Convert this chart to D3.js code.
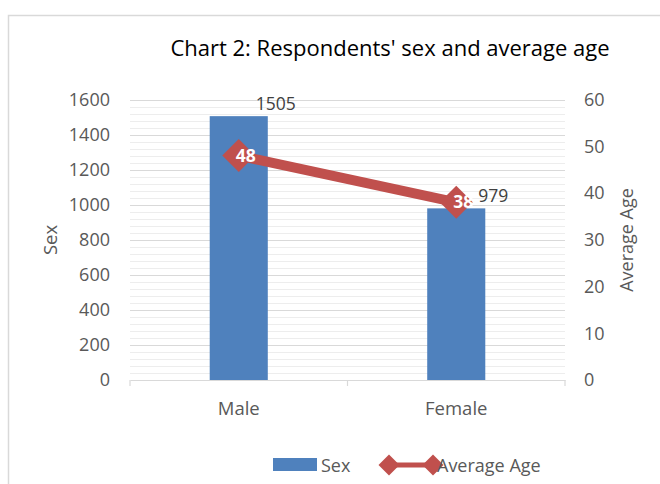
<!DOCTYPE html>
<html><head><meta charset="utf-8">
<script src="https://cdn.jsdelivr.net/npm/d3@7"></script>
<style>
html,body{margin:0;padding:0;background:#fff;}
svg{display:block;font-family:"Open Sans",sans-serif;}
</style></head>
<body>
<svg id="c" width="660" height="484"></svg>
<script>
const categories = ["Male","Female"];
const sexCounts = [1505, 979];
const averageAge = [48, 38];
const leftTicks = [0,200,400,600,800,1000,1200,1400,1600];
const rightTicks = [0,10,20,30,40,50,60];
const minorStep = 40;

const svg = d3.select("#c");
const W = 660, H = 484;
const L = 130, R = 565, T = 99.5, B = 380;
const textCol = "#595959", blue = "#4f81bd", red = "#c0504d";

// chart border
svg.append("rect").attr("x",8.5).attr("y",15.5).attr("width",W).attr("height",H)
  .attr("fill","none").attr("stroke","#d9d9d9").attr("stroke-width",1.5);

const x = d3.scaleBand().domain(categories).range([L,R]).padding(0);
const yL = d3.scaleLinear().domain([0,1600]).range([B,T]);
const yR = d3.scaleLinear().domain([0,60]).range([B,T]);

// minor gridlines
const minor = d3.range(0, 1600 + 1, minorStep).filter(v => !leftTicks.includes(v));
svg.append("g").selectAll("line").data(minor).join("line")
  .attr("x1",L).attr("x2",R).attr("y1",d=>Math.round(yL(d))+0.5).attr("y2",d=>Math.round(yL(d))+0.5)
  .attr("stroke","#ededed").attr("stroke-width",1);
// major gridlines
svg.append("g").selectAll("line").data(leftTicks.filter(v=>v>0)).join("line")
  .attr("x1",L).attr("x2",R).attr("y1",d=>Math.round(yL(d))+0.5).attr("y2",d=>Math.round(yL(d))+0.5)
  .attr("stroke","#d9d9d9").attr("stroke-width",1);

// x axis
const xAxis = svg.append("g").attr("transform",`translate(0,${B})`)
  .call(d3.axisBottom(x).tickSize(0).tickPadding(22));
xAxis.select(".domain").attr("stroke","#d9d9d9").attr("stroke-width",1.2);
xAxis.selectAll("text").attr("font-size",18.5).attr("fill",textCol).attr("font-family","Open Sans");
// category boundary ticks
const bounds = [L, ...categories.slice(1).map(c=>x(c)), R];
svg.append("g").selectAll("line").data(bounds).join("line")
  .attr("x1",d=>d).attr("x2",d=>d).attr("y1",B).attr("y2",B+6)
  .attr("stroke","#d9d9d9").attr("stroke-width",1.2);

// left axis
const la = svg.append("g").attr("transform",`translate(${L},0)`)
  .call(d3.axisLeft(yL).tickValues(leftTicks).tickFormat(d3.format("d")).tickSize(0).tickPadding(20));
la.select(".domain").remove();
la.selectAll("text").attr("font-size",18).attr("fill",textCol).attr("font-family","Open Sans");

// right axis
const ra = svg.append("g").attr("transform",`translate(${R},0)`)
  .call(d3.axisRight(yR).tickValues(rightTicks).tickFormat(d3.format("d")).tickSize(0).tickPadding(19));
ra.select(".domain").remove();
ra.selectAll("text").attr("font-size",18).attr("fill",textCol).attr("font-family","Open Sans");

// axis titles
svg.append("text").attr("transform",`translate(57,240) rotate(-90)`).attr("text-anchor","middle")
  .attr("font-size",18.5).attr("fill",textCol).text("Sex");
svg.append("text").attr("transform",`translate(633,240) rotate(-90)`).attr("text-anchor","middle")
  .attr("font-size",18).attr("fill",textCol).text("Average Age");

// title
svg.append("text").attr("x",390).attr("y",56).attr("text-anchor","middle")
  .attr("font-size",22).attr("fill","#000").text("Chart 2: Respondents' sex and average age");

// bars
const bw = x.bandwidth()*0.267;
svg.append("g").selectAll("rect").data(categories).join("rect")
  .attr("x",(d)=>x(d)+x.bandwidth()/2-bw/2).attr("width",bw)
  .attr("y",(d,i)=>yL(sexCounts[i])).attr("height",(d,i)=>B-yL(sexCounts[i]))
  .attr("fill",blue);

// bar labels
svg.append("g").selectAll("text").data(categories).join("text")
  .attr("x",(d)=>x(d)+x.bandwidth()/2+37).attr("y",(d,i)=>yL(sexCounts[i])-6)
  .attr("text-anchor","middle").attr("font-size",17.5).attr("fill","#404040")
  .text((d,i)=>sexCounts[i]);

// line
const pts = categories.map((c,i)=>[x(c)+x.bandwidth()/2, yR(averageAge[i])]);
svg.append("path").attr("d",d3.line()(pts)).attr("fill","none")
  .attr("stroke",red).attr("stroke-width",10);
const dm = (cx,cy,r)=>`M${cx-r},${cy}L${cx},${cy-r}L${cx+r},${cy}L${cx},${cy+r}Z`;
svg.append("g").selectAll("path").data(pts).join("path")
  .attr("d",d=>dm(d[0],d[1],16.5)).attr("fill",red);
svg.append("g").selectAll("text").data(pts).join("text")
  .attr("x",d=>d[0]+7).attr("y",d=>d[1]+6)
  .attr("text-anchor","middle").attr("font-size",17.5).attr("font-weight","bold").attr("fill","#fff")
  .text((d,i)=>averageAge[i]);

// legend
const lg = svg.append("g");
lg.append("rect").attr("x",273).attr("y",458).attr("width",44).attr("height",13).attr("fill",blue);
lg.append("text").attr("x",321).attr("y",472).attr("font-size",18).attr("fill",textCol).text("Sex");
lg.append("line").attr("x1",384).attr("x2",436).attr("y1",465).attr("y2",465).attr("stroke",red).attr("stroke-width",5);
lg.append("path").attr("d",dm(389,465,10.5)).attr("fill",red);
lg.append("path").attr("d",dm(433,465,10.5)).attr("fill",red);
lg.append("text").attr("x",437).attr("y",472).attr("font-size",18).attr("fill",textCol).text("Average Age");
</script>
</body></html>
